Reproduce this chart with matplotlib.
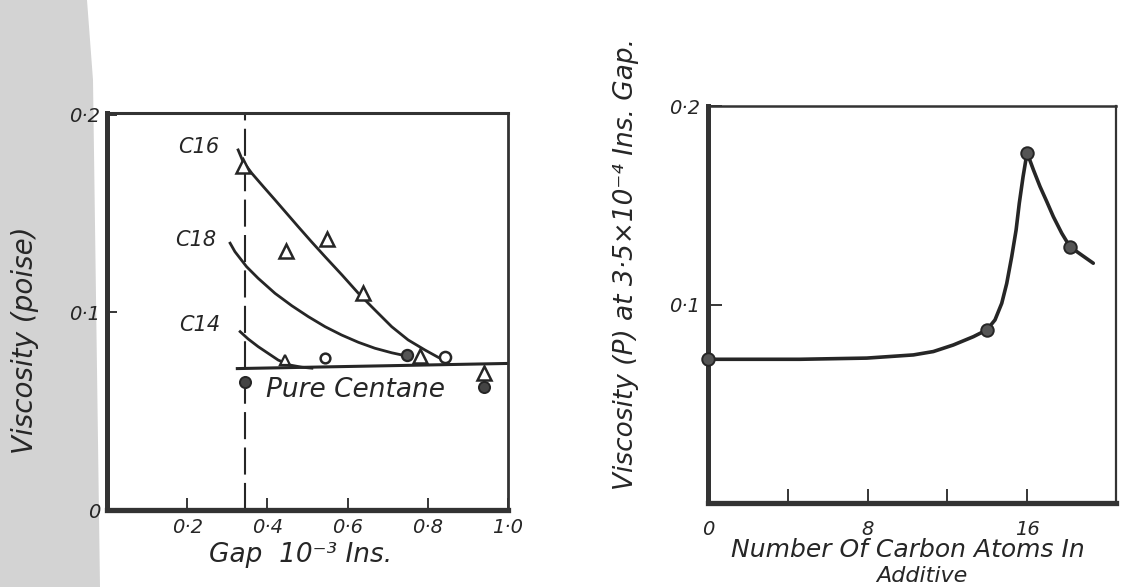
import matplotlib
matplotlib.use("Agg")
import matplotlib.pyplot as plt
from matplotlib.patches import Polygon

# ---------------- data ----------------
# Left panel: viscosity vs gap
gap_ticks = [0.2, 0.4, 0.6, 0.8, 1.0]
gap_tick_labels = ["0·2", "0·4", "0·6", "0·8", "1·0"]
visc_ticks = [0, 0.1, 0.2]
visc_tick_labels = ["0", "0·1", "0·2"]

c16_curve_x = [0.327, 0.339, 0.361, 0.390, 0.419, 0.448, 0.477, 0.510, 0.544, 0.586,
               0.627, 0.668, 0.710, 0.751, 0.793, 0.826, 0.851]
c16_curve_y = [0.1823, 0.1765, 0.1705, 0.1637, 0.1570, 0.1502, 0.1434, 0.1358, 0.1282,
               0.1190, 0.1097, 0.1013, 0.0928, 0.0861, 0.0810, 0.0773, 0.0751]
c16_pts_x = [0.339, 0.446, 0.549, 0.638, 0.781, 0.94]
c16_pts_y = [0.174, 0.131, 0.137, 0.110, 0.078, 0.0694]

c18_curve_x = [0.307, 0.319, 0.348, 0.377, 0.419, 0.461, 0.502, 0.544, 0.585, 0.627,
               0.668, 0.710, 0.735]
c18_curve_y = [0.1351, 0.1308, 0.1232, 0.1173, 0.1097, 0.1034, 0.0979, 0.0928, 0.0886,
               0.0849, 0.0819, 0.0796, 0.0785]
c18_pts_x = [0.748, 0.843]
c18_pts_y = [0.0785, 0.0775]

c14_curve_x = [0.332, 0.352, 0.377, 0.402, 0.427, 0.456, 0.486, 0.511]
c14_curve_y = [0.0903, 0.0866, 0.0827, 0.0793, 0.0759, 0.0734, 0.0723, 0.0718]
c14_tri_x = [0.444]
c14_tri_y = [0.076]
c14_circ_x = [0.544]
c14_circ_y = [0.077]

cetane_line_x = [0.325, 1.0]
cetane_line_y = [0.0716, 0.0742]
cetane_pts_x = [0.344, 0.94]
cetane_pts_y = [0.065, 0.0623]

gap_marker = 0.344  # dashed line at 3.5e-4 in gap

# Right panel: viscosity at 3.5e-4 in gap vs carbon atoms
carbon_ticks = [0, 4, 8, 12, 16]
carbon_tick_labels = ["0", "", "8", "", "16"]
visc2_ticks = [0.1, 0.2]
visc2_tick_labels = ["0·1", "0·2"]

curve2_x = [0, 4.61, 7.96, 10.30, 11.30, 12.30, 13.31, 13.98, 14.39, 14.73, 14.98,
            15.23, 15.45, 15.61, 15.80, 16.0,
            16.32, 16.65, 16.99, 17.32, 17.74, 18.15, 18.74, 19.32]
curve2_y = [0.0724, 0.0724, 0.0730, 0.0746, 0.0763, 0.0796, 0.0838, 0.0872, 0.0922,
            0.1006, 0.1106, 0.1241, 0.1375, 0.1510, 0.1644, 0.1765,
            0.1678, 0.1594, 0.1518, 0.1442, 0.1359, 0.1291, 0.1249, 0.1208]
pts2_x = [0, 14, 16, 18.15]
pts2_y = [0.0724, 0.0872, 0.1765, 0.1291]

# ---------------- figure ----------------
W, H = 1134, 587
fig = plt.figure(figsize=(W / 100, H / 100), dpi=100)
fig.patch.set_facecolor("white")

ink = "#262626"
frame = "#333333"

# grey stippled strip at the left edge of the scan
strip = Polygon([(0, 1), (87 / W, 1), (93 / W, 1 - 80 / H), (100 / W, 0), (0, 0)],
                closed=True, transform=fig.transFigure, facecolor="#d3d3d3",
                edgecolor="none", zorder=-10)
fig.patches.append(strip)

def px(x, y):
    return x / W, 1 - y / H

font = dict(family="DejaVu Sans", style="italic", color=ink)

# ---------- left panel ----------
ax1 = fig.add_axes([107 / W, 1 - 510 / H, (508 - 107) / W, (510 - 113) / H])
ax1.set_xlim(0, 1.0)
ax1.set_ylim(0, 0.201)
for side, lw in (("left", 3.6), ("bottom", 3.8), ("top", 2.2), ("right", 2.0)):
    ax1.spines[side].set_linewidth(lw)
    ax1.spines[side].set_color(frame)
ax1.set_xticks(gap_ticks)
ax1.set_xticklabels(gap_tick_labels, fontsize=14, **font)
ax1.set_yticks(visc_ticks)
ax1.set_yticklabels(visc_tick_labels, fontsize=14, **font)
ax1.tick_params(axis="x", direction="in", length=9, width=1.3, pad=6, colors=ink)
ax1.tick_params(axis="y", direction="in", length=7, width=1.3, pad=5, colors=ink)

ax1.axvline(gap_marker, color=ink, lw=1.5, dashes=(13, 4), zorder=1)
ax1.plot(cetane_line_x, cetane_line_y, color=ink, lw=2.2)
ax1.plot(c16_curve_x, c16_curve_y, color=ink, lw=2.0, solid_joinstyle="round")
ax1.plot(c18_curve_x, c18_curve_y, color=ink, lw=2.0, solid_joinstyle="round")
ax1.plot(c14_curve_x, c14_curve_y, color=ink, lw=2.0, solid_joinstyle="round")

ax1.plot(c16_pts_x, c16_pts_y, ls="none", marker="^", ms=10, mfc="white",
         mec=ink, mew=1.8, zorder=4)
ax1.plot(c18_pts_x[:1], c18_pts_y[:1], ls="none", marker="o", ms=8, mfc="#555555",
         mec=ink, mew=1.6, zorder=4)
ax1.plot(c18_pts_x[1:], c18_pts_y[1:], ls="none", marker="o", ms=8, mfc="white",
         mec=ink, mew=1.8, zorder=4)
ax1.plot(c14_tri_x, c14_tri_y, ls="none", marker="^", ms=7, mfc="white",
         mec=ink, mew=1.6, zorder=4)
ax1.plot(c14_circ_x, c14_circ_y, ls="none", marker="o", ms=7, mfc="white",
         mec=ink, mew=1.8, zorder=4)
ax1.plot(cetane_pts_x, cetane_pts_y, ls="none", marker="o", ms=8, mfc="#444444",
         mec=ink, mew=1.4, zorder=4)

ax1.text(0.229, 0.1838, "C16", fontsize=15, ha="center", va="center", **font)
ax1.text(0.222, 0.1367, "C18", fontsize=15, ha="center", va="center", **font)
ax1.text(0.232, 0.0937, "C14", fontsize=15, ha="center", va="center", **font)
ax1.text(0.397, 0.0608, "Pure Centane", fontsize=19, ha="left", va="center", **font)

fig.text(*px(301, 555), "Gap  10⁻³ Ins.", fontsize=19, ha="center", va="center", **font)
fig.text(*px(25, 340), "Viscosity (poise)", fontsize=20, rotation=90,
         ha="center", va="center", **font)

# ---------- right panel ----------
ax2 = fig.add_axes([708 / W, 1 - 503 / H, (1116 - 708) / W, (503 - 106) / H])
ax2.set_xlim(0, 20.46)
ax2.set_ylim(0, 0.2)
for side, lw in (("left", 3.6), ("bottom", 3.8), ("top", 1.8), ("right", 1.6)):
    ax2.spines[side].set_linewidth(lw)
    ax2.spines[side].set_color(frame)
ax2.set_xticks(carbon_ticks)
ax2.set_xticklabels(carbon_tick_labels, fontsize=14, **font)
ax2.set_yticks(visc2_ticks)
ax2.set_yticklabels(visc2_tick_labels, fontsize=14, **font)
ax2.tick_params(axis="x", direction="in", length=10, width=1.3, pad=12, colors=ink)
ax2.tick_params(axis="y", direction="in", length=10, width=1.3, pad=6, colors=ink)

ax2.plot(curve2_x, curve2_y, color=ink, lw=2.6, solid_capstyle="round",
         solid_joinstyle="round")
ax2.plot(pts2_x, pts2_y, ls="none", marker="o", ms=9, mfc="#555555", mec=ink,
         mew=1.4, zorder=4, clip_on=False)

fig.text(*px(908, 550), "Number Of Carbon Atoms In", fontsize=18, ha="center",
         va="center", **font)
fig.text(*px(922, 576), "Additive", fontsize=16, ha="center", va="center", **font)
fig.text(*px(626, 264), "Viscosity (P) at 3·5×10⁻⁴ Ins. Gap.", fontsize=19,
         rotation=90, ha="center", va="center", **font)

fig.savefig("out.png", dpi=100, facecolor="white")
